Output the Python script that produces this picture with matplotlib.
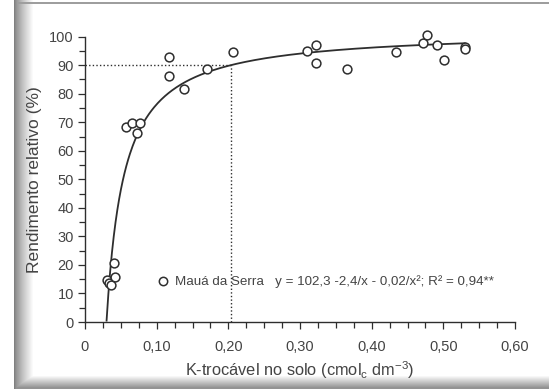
import numpy as np
import matplotlib
matplotlib.use("Agg")
import matplotlib.pyplot as plt
from matplotlib.ticker import MultipleLocator, FixedLocator, FixedFormatter

plt.rcParams['font.family'] = ['Liberation Sans', 'DejaVu Sans']
plt.rcParams['mathtext.default'] = 'regular'

# Observed relative yield vs. exchangeable K (Mauá da Serra)
k_solo = [0.031, 0.034, 0.036, 0.041, 0.042,
          0.057, 0.066, 0.072, 0.077,
          0.117, 0.117, 0.138, 0.170, 0.206,
          0.310, 0.323, 0.322, 0.365, 0.434,
          0.471, 0.477, 0.491, 0.501, 0.530, 0.530]
rendimento = [14.6, 13.5, 12.8, 20.8, 15.8,
              68.3, 69.6, 66.2, 69.7,
              92.8, 86.4, 81.5, 88.7, 94.5,
              94.9, 97.2, 90.7, 88.7, 94.5,
              97.9, 100.6, 97.2, 91.8, 96.3, 95.6]

# Fitted model y = a - b/x - c/x^2
coef_a, coef_b, coef_c = 102.3, 2.4, 0.02
r2_label = "0,94**"
nivel_critico = 90  # % relative yield threshold

x_ticks = [0, 0.1, 0.2, 0.3, 0.4, 0.5, 0.6]
x_ticklabels = ["0", "0,10", "0,20", "0,30", "0,40", "0,50", "0,60"]
y_ticks = [0, 10, 20, 30, 40, 50, 60, 70, 80, 90, 100]

W, H = 549, 389
fig = plt.figure(figsize=(W / 100, H / 100), dpi=100)
fig.patch.set_facecolor('white')

# Photo-style frame: shaded left and bottom edges, thin top rule
bg = fig.add_axes([0, 0, 1, 1], zorder=-10)
bg.set_axis_off()
img = np.ones((H, W))
xs = np.arange(W)
left = np.clip((xs - 14) / 19.0, 0, 1)
shade_l = np.where(xs < 14, 1.0, 0.50 + 0.50 * left ** 0.8)
img = np.minimum(img, shade_l[None, :])
ys = np.arange(H)
bot = np.clip((ys - 375) / 12.0, 0, 1)
shade_b = np.where(ys < 375, 1.0, 1.0 - 0.42 * bot)
img = np.minimum(img, shade_b[:, None] * np.ones((1, W)))
img[2:4, 14:] = np.minimum(img[2:4, 14:], 0.62)
img[:, :14] = 1.0
bg.imshow(img, cmap='gray', vmin=0, vmax=1, extent=[0, W, H, 0], aspect='auto',
          interpolation='bilinear')
bg.set_xlim(0, W)
bg.set_ylim(H, 0)

ax = fig.add_axes([85 / W, 1 - 322 / H, (515 - 85) / W, (322 - 36.7) / H])
ax.set_facecolor('none')
ax.set_xlim(0, 0.6)
ax.set_ylim(0, 100)

txt_col = '#444444'
line_col = '#2e2e2e'

for s in ['top', 'right']:
    ax.spines[s].set_visible(False)
for s in ['left', 'bottom']:
    ax.spines[s].set_color(line_col)
    ax.spines[s].set_linewidth(1.0)

ax.xaxis.set_major_locator(FixedLocator(x_ticks))
ax.xaxis.set_major_formatter(FixedFormatter(x_ticklabels))
ax.xaxis.set_minor_locator(MultipleLocator(0.025))
ax.yaxis.set_major_locator(FixedLocator(y_ticks))
ax.yaxis.set_minor_locator(MultipleLocator(5))
ax.tick_params(axis='both', which='both', direction='out', colors=line_col,
               labelcolor=txt_col, labelsize=10.5, width=0.9)
ax.tick_params(axis='both', which='major', length=5)
ax.tick_params(axis='both', which='minor', length=4)
ax.tick_params(axis='x', pad=8)
ax.tick_params(axis='y', pad=3)

ax.set_xlabel("K-trocável no solo (cmol$_c$ dm$^{-3}$)", fontsize=11.8,
              color=txt_col, labelpad=4)
ax.set_ylabel("Rendimento relativo (%)", fontsize=12.5, color=txt_col, labelpad=5)

# Fitted curve
xc = np.linspace(0.0301, 0.53, 400)
yc = coef_a - coef_b / xc - coef_c / xc ** 2
ax.plot(xc, yc, color=line_col, lw=1.3, zorder=3)

# Critical level guides
disc = coef_b ** 2 + 4 * (coef_a - nivel_critico) * coef_c
x_crit = (coef_b + np.sqrt(disc)) / (2 * (coef_a - nivel_critico))
ax.plot([0, x_crit], [nivel_critico, nivel_critico], color=line_col, lw=1.0,
        ls=(0, (1, 1.6)), zorder=2)
ax.plot([x_crit, x_crit], [0, nivel_critico], color=line_col, lw=1.0,
        ls=(0, (1, 1.6)), zorder=2)

ax.scatter(k_solo, rendimento, s=40, facecolors='white', edgecolors=line_col,
           linewidths=1.1, zorder=4, clip_on=False)

# Legend entry with equation
ax.scatter([0.109], [14.2], s=36, facecolors='white', edgecolors=line_col,
           linewidths=1.1, zorder=4)
eq = ("Mauá da Serra   y = {:.1f} -{:.1f}/x - {:.2f}/x²; R² = {}"
      .format(coef_a, coef_b, coef_c, r2_label).replace('.', ','))
ax.text(0.125, 14.2, eq, fontsize=9.6, color=txt_col, va='center', ha='left',
        zorder=5)

fig.savefig("out.png", dpi=100)
